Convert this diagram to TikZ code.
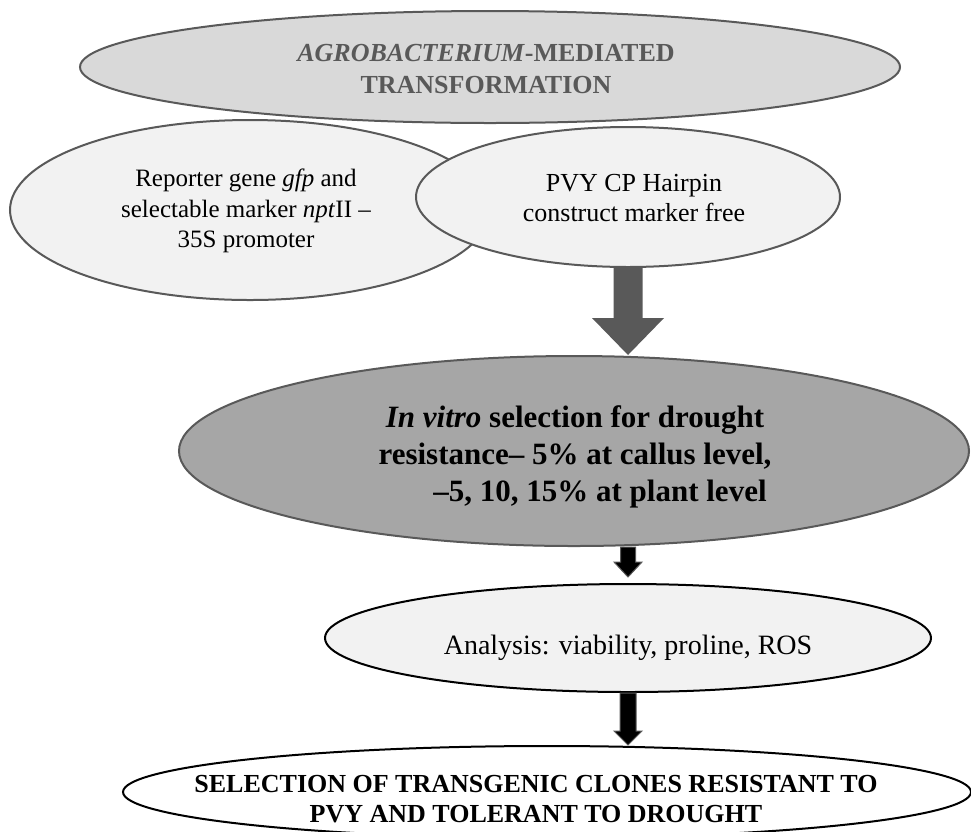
\documentclass[tikz,border=0pt]{standalone}
\usepackage{fontspec}
\setmainfont{Liberation Serif}
\usetikzlibrary{shapes.geometric,calc}
\definecolor{gA}{HTML}{D9D9D9}
\definecolor{gB}{HTML}{F2F2F2}
\definecolor{gC}{HTML}{A6A6A6}
\definecolor{dk}{HTML}{595959}
\begin{document}
\begin{tikzpicture}[x=1pt,y=-1pt,
  ell/.style={ellipse, draw=dk, line width=2pt, inner sep=0pt},
  lbl/.style={align=center, inner sep=0pt},
  bigarrow/.style={fill=dk},
  smallarrow/.style={fill=black, draw=dk, line width=1pt},
]
\useasboundingbox (0,0) rectangle (971,831);
\begin{scope}
\clip (0,0) rectangle (971,831);
% shapes
\node[ell, fill=gA, minimum width=820, minimum height=112] (top) at (490,67) {};
\node[ell, fill=gB, minimum width=480, minimum height=180] (left) at (250,210) {};
\node[ell, fill=gB, minimum width=424, minimum height=140] (right) at (628,197) {};
\node[ell, fill=gC, minimum width=790, minimum height=190] (big) at (574,451) {};
\node[ell, draw=black, fill=gB, minimum width=606, minimum height=108] (ana) at (628,638) {};
\node[ell, draw=black, fill=white, minimum width=848, minimum height=92] (bot) at (547,792) {};
% texts
\node[lbl, text=dk, font=\fontsize{26}{31.5}\selectfont\bfseries] (ttop) at (486,69)
  {\textit{AGROBACTERIUM}-MEDIATED\\TRANSFORMATION};
\node[lbl, font=\fontsize{25}{30.5}\selectfont] (tleft) at (246,211)
  {Reporter gene \textit{gfp} and\\selectable marker \textit{npt}II --\\35S promoter};
\node[lbl, font=\fontsize{26}{30}\selectfont] (tright) at (634,198)
  {PVY CP Hairpin\\construct marker free};
\node[lbl, font=\fontsize{31}{37}\selectfont\bfseries] (tbig) at (575,457)
  {\textit{In vitro} selection for drought\\resistance-- 5\% at callus level,\\\hspace*{50pt}--5, 10, 15\% at plant level};
\node[lbl, font=\fontsize{28}{32}\selectfont] (tana) at (628,648)
  {Analysis: viability, proline, ROS};
\node[lbl, font=\fontsize{26}{30}\selectfont\bfseries] (tbot) at (536,799)
  {SELECTION OF TRANSGENIC CLONES RESISTANT TO\\PVY AND TOLERANT TO DROUGHT};
% arrows
\coordinate (a1tip) at ($(ana.north)+(0,-6)$);
\path[bigarrow] let \p1=(right.south), \p2=(right.south |- big.north) in
  (\x1-14.5,\y1) -- (\x1+14.5,\y1) -- (\x1+14.5,\y2+37) -- (\x1+36,\y2+37) -- (\x2,\y2)
  -- (\x1-36,\y2+37) -- (\x1-14.5,\y2+37) -- cycle;
\path[smallarrow] let \p1=(big.south -| ana.north), \p2=(a1tip) in
  (\x1-7.5,\y1) -- (\x1+7.5,\y1) -- (\x1+7.5,\y2+15) -- (\x1+14,\y2+15) -- (\x2,\y2)
  -- (\x1-14,\y2+15) -- (\x1-7.5,\y2+15) -- cycle;
\path[smallarrow] let \p1=(ana.south), \p2=(bot.north -| ana.south) in
  (\x1-8,\y1) -- (\x1+8,\y1) -- (\x1+8,\y2+14) -- (\x1+14,\y2+14) -- (\x1,\y2)
  -- (\x1-14,\y2+14) -- (\x1-8,\y2+14) -- cycle;
\end{scope}
\end{tikzpicture}
\end{document}
